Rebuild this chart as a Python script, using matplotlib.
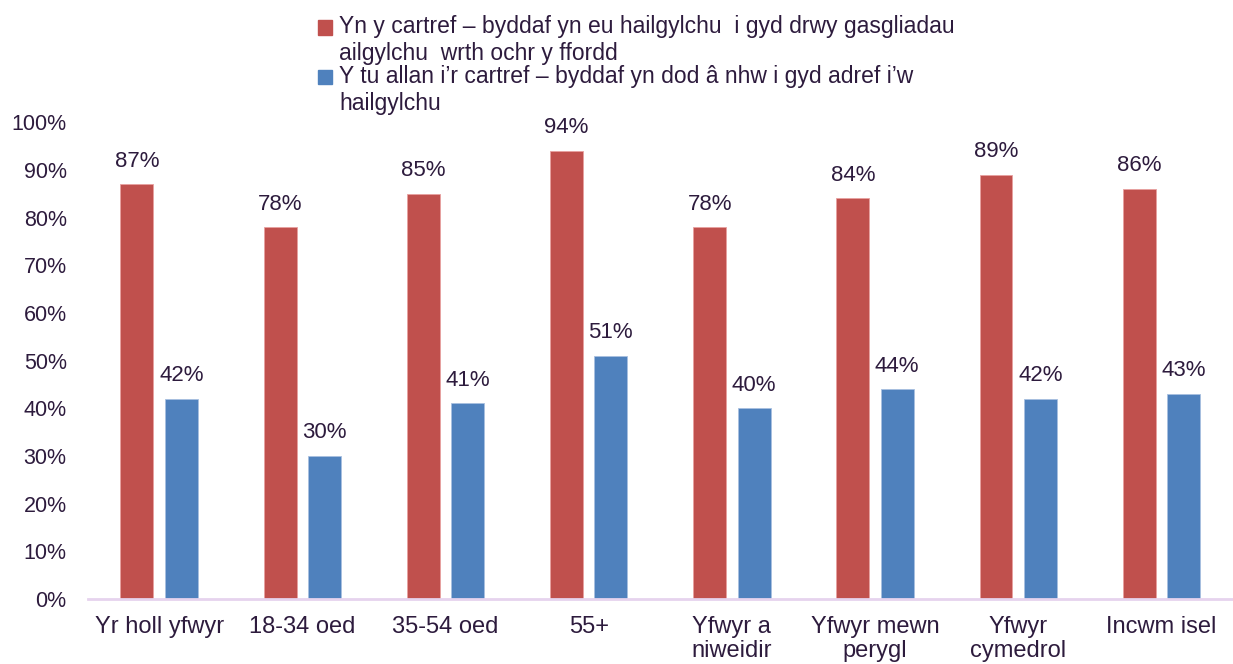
import numpy as np
import matplotlib
matplotlib.use("Agg")
import matplotlib.pyplot as plt
from matplotlib.patches import Patch, Rectangle
from matplotlib.legend_handler import HandlerPatch

plt.rcParams['font.family'] = ['Liberation Sans', 'DejaVu Sans']

# chart data
categories = ["Yr holl yfwyr", "18-34 oed", "35-54 oed", "55+",
              "Yfwyr a\nniweidir", "Yfwyr mewn\nperygl", "Yfwyr\ncymedrol", "Incwm isel"]
home = [87, 78, 85, 94, 78, 84, 89, 86]
outside = [42, 30, 41, 51, 40, 44, 42, 43]
series_labels = [
    "Yn y cartref – byddaf yn eu hailgylchu  i gyd drwy gasgliadau\nailgylchu  wrth ochr y ffordd",
    "Y tu allan i’r cartref – byddaf yn dod â nhw i gyd adref i’w\nhailgylchu",
]

red = "#C0504D"
blue = "#4F81BD"
txt = "#2D1B3D"

fig = plt.figure(figsize=(12.33, 6.64), dpi=100)
ax = fig.add_axes([0.071, 0.098, 0.929, 0.718])

x = np.arange(len(categories))
w = 0.23
off = 0.155
b1 = ax.bar(x - off, home, w, color=red, edgecolor="#E8A0A0", linewidth=0.6)
b2 = ax.bar(x + off, outside, w, color=blue, edgecolor="#A8C0E0", linewidth=0.6)

# value labels
for bars in (b1, b2):
    for r in bars:
        ax.annotate(f"{r.get_height():.0f}%", (r.get_x() + r.get_width() / 2, r.get_height()),
                    xytext=(0, 9), textcoords="offset points", ha="center", va="bottom",
                    fontsize=16, color=txt)

ax.set_xlim(-0.5, len(categories) - 0.5)
ax.set_ylim(0, 100)
ax.set_yticks(range(0, 101, 10))
ax.set_yticklabels([f"{v}%" for v in range(0, 101, 10)])
ax.set_xticks(x)
ax.set_xticklabels(categories, linespacing=1.12)
ax.tick_params(axis="both", length=0, colors=txt)
ax.tick_params(axis="x", pad=12, labelsize=17)
ax.tick_params(axis="y", pad=15, labelsize=15.5)

for s in ("top", "right", "left"):
    ax.spines[s].set_visible(False)
ax.spines["bottom"].set_color("#E6D3EE")
ax.spines["bottom"].set_linewidth(2)


# legend square sits beside the first line of a two-line label
def top_square(legend, orig_handle, xdescent, ydescent, width, height, fontsize):
    return Rectangle((-xdescent, -ydescent + 0.6 * fontsize), width, height)


handles = [Patch(color=red), Patch(color=blue)]
fig.legend(handles, series_labels, loc="upper left", bbox_to_anchor=(0.2415, 1.008),
           frameon=False, fontsize=16.5, labelcolor=txt, handlelength=0.6, handleheight=0.6,
           handletextpad=0.3, labelspacing=0.0,
           handler_map={Patch: HandlerPatch(patch_func=top_square)})

fig.savefig("out.png", dpi=100)
